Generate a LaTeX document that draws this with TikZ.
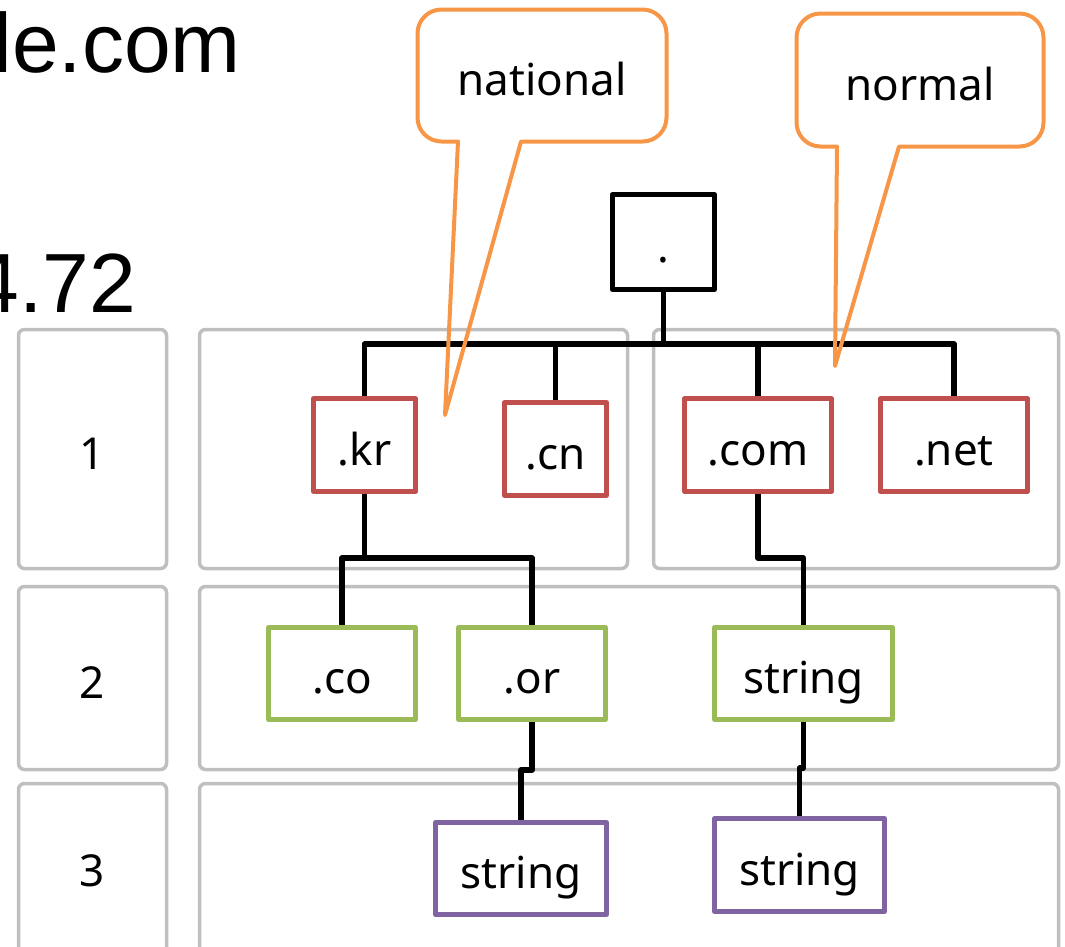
\documentclass[tikz,border=0pt]{standalone}
\usepackage{fontspec}
\setmainfont{Noto Sans}
\newfontfamily\headfont{Liberation Sans}
\definecolor{lvred}{HTML}{C0504D}
\definecolor{lvgreen}{HTML}{9BBB59}
\definecolor{lvpurple}{HTML}{8064A2}
\definecolor{tagorange}{HTML}{F79646}
\definecolor{gridgray}{HTML}{BFBFBF}
\begin{document}
\begin{tikzpicture}[x=1pt,y=-1pt,
  lvl/.style={draw=gridgray, line width=3.5pt, rounded corners=6pt},
  lvlnum/.style={font=\fontsize{44}{50}\selectfont, text height=40pt, text depth=0pt, inner sep=0pt},
  dom/.style={draw, line width=5pt, line join=round, fill=white, inner sep=0pt,
    font=\fontsize{44}{50}\selectfont, text height=40pt, text depth=0pt},
  top/.style={dom, draw=black},
  tld/.style={dom, draw=lvred},
  sld/.style={dom, draw=lvgreen},
  thd/.style={dom, draw=lvpurple},
  link/.style={line width=5.5pt, line join=round},
  callout/.style={draw=tagorange, line width=4pt, line join=round},
  headtxt/.style={font=\headfont\fontsize{84}{100}\selectfont, inner sep=0pt, anchor=base east}]
\useasboundingbox (0,0) rectangle (1065,946);

% heading text, partly outside the page
\node[headtxt] (host) at (241,72) {le.com};
\node[headtxt] (addr) at (136,312) {4.72};

% level frames
\draw[lvl] (18.5,329.5) rectangle (166.5,568.5);
\draw[lvl] (18.5,586.5) rectangle (166.5,769.5);
\draw[lvl] (18.5,783.5) rectangle (166.5,990);
\draw[lvl] (199.5,329.5) rectangle (627.5,568.5);
\draw[lvl] (653.5,329.5) rectangle (1058.5,568.5);
\draw[lvl] (199.5,586.5) rectangle (1058.5,769.5);
\draw[lvl] (199.5,783.5) rectangle (1058.5,990);

\node[lvlnum] (n1) at (92.5,449) {1};
\node[lvlnum] (n2) at (92.5,678) {2};
\node[lvlnum] (n3) at (92.5,866) {3};

% domain tree
\node[top, minimum width=102pt, minimum height=95pt] (root) at (663.5,242) {.};

\node[tld, minimum width=102pt, minimum height=93pt] (kr)  at (364.5,445) {.kr};
\node[tld, minimum width=102pt, minimum height=93pt] (cn)  at (555.5,449) {.cn};
\node[tld, minimum width=147pt, minimum height=93pt] (com) at (758,445) {.com};
\node[tld, minimum width=147pt, minimum height=93pt] (net) at (954,445) {.net};

\node[sld, minimum width=147pt, minimum height=92pt] (co) at (342,673.5) {.co};
\node[sld, minimum width=147pt, minimum height=92pt] (or) at (532,673.5) {.or};
\node[sld, minimum width=178pt, minimum height=92pt] (s2) at (803.5,673.5) {string};

\node[thd, minimum width=171pt, minimum height=92pt] (s3a) at (521,868.5) {string};
\node[thd, minimum width=170pt, minimum height=93pt] (s3b) at (799.5,865) {string};

% connectors
\draw[link] (root.south) -- ++(0,52) coordinate (bus);
\draw[link] (kr.north) |- (bus) -| (net.north);
\draw[link] (cn.north) |- (bus);
\draw[link] (com.north) |- (bus);

\draw[link] (kr.south) -- ++(0,64) coordinate (krj);
\draw[link] (co.north) |- (krj) -| (or.north);
\draw[link] (com.south) -- ++(0,64) -| (s2.north);
\draw[link] (or.south) -- ++(0,48) -| (s3a.north);
\draw[link] (s2.south) -- ++(0,46) -| (s3b.north);

% callouts
\draw[callout] (521,141.5) [rounded corners=24pt] -- (666.5,141.5) -- (666.5,9.5) -- (417.5,9.5) -- (417.5,141.5) [sharp corners] -- (458,141.5) -- (445,415) -- cycle;
\node[lvlnum] (natl) at (542,75.5) {national};

\draw[callout] (899,146.5) [rounded corners=24pt] -- (1043.5,146.5) -- (1043.5,13.5) -- (796.5,13.5) -- (796.5,146.5) [sharp corners] -- (837,146.5) -- (835,366) -- cycle;
\node[lvlnum] (norm) at (920,80) {normal};
\end{tikzpicture}
\end{document}
